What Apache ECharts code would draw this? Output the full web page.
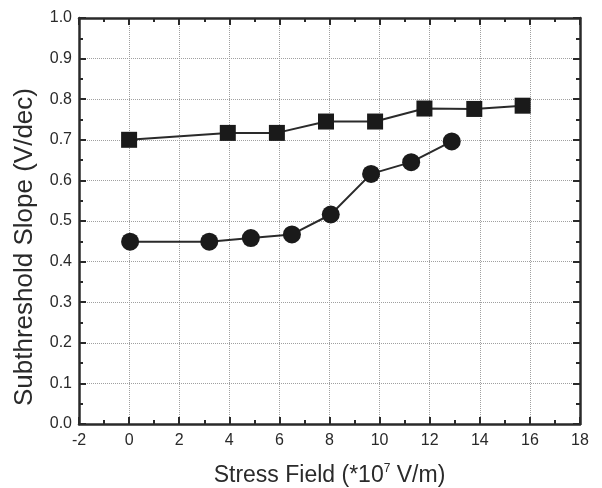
<!DOCTYPE html>
<html>
<head>
<meta charset="utf-8">
<script src="https://cdn.jsdelivr.net/npm/echarts@6/dist/echarts.min.js"></script>
<style>
  html, body { margin: 0; padding: 0; background: #fff; }
  #chart { width: 602px; height: 488px; }
</style>
</head>
<body>
<div id="chart"></div>
<script>
// 方块系列
const squareX = [0, 3.94, 5.9, 7.86, 9.82, 11.79, 13.78, 15.71];
const squareY = [0.70, 0.717, 0.717, 0.745, 0.745, 0.777, 0.776, 0.784];
// 圆点系列
const circleX = [0.04, 3.2, 4.86, 6.5, 8.05, 9.66, 11.26, 12.88];
const circleY = [0.449, 0.449, 0.458, 0.467, 0.516, 0.616, 0.645, 0.696];

const xLabel = 'Stress Field (*10';
const yLabel = 'Subthreshold Slope (V/dec)';

const ink = '#2a2a2a';
const font = 'Liberation Sans, Arial, sans-serif';

const chart = echarts.init(document.getElementById('chart'));

// 边框轴的公共设置
const frameLine = { show: true, onZero: false, lineStyle: { color: ink, width: 2.5 } };
const grid = { lineStyle: { color: '#a0a0a0', type: 'dotted', width: 1 } };
const tick = { show: true, inside: true, length: 7, lineStyle: { color: ink, width: 2 } };
const minor = { show: true, splitNumber: 2, length: 4, lineStyle: { color: ink, width: 2 } };

function pairs(xs, ys) {
  return xs.map((x, i) => [x, ys[i]]);
}

chart.setOption({
  animation: false,
  grid: { left: 79, right: 22, top: 18, bottom: 64, outerBoundsMode: 'none' },
  xAxis: [
    {
      type: 'value', min: -2, max: 18, interval: 2,
      name: '{a|' + xLabel + '}{s|7}{a| V/m)}',
      nameLocation: 'middle', nameGap: 39,
      nameTextStyle: {
        rich: {
          a: { fontSize: 23, color: ink, fontFamily: font },
          s: { fontSize: 12, color: ink, fontFamily: font, verticalAlign: 'top', padding: [0, 0, 14, 0] }
        }
      },
      axisLine: frameLine,
      axisTick: tick,
      minorTick: minor,
      axisLabel: { color: ink, fontSize: 16, fontFamily: font, margin: 9 },
      splitLine: { show: true, ...grid }
    },
    {
      type: 'value', min: -2, max: 18, interval: 2, position: 'top',
      axisLine: frameLine,
      axisTick: tick,
      minorTick: minor,
      axisLabel: { show: false },
      splitLine: { show: false }
    }
  ],
  yAxis: [
    {
      type: 'value', min: 0, max: 1, interval: 0.1,
      name: yLabel, nameLocation: 'middle', nameGap: 41,
      // 右侧留白让标题沿轴向下偏移，与原图对齐
      nameTextStyle: { fontSize: 26, color: ink, fontFamily: font, padding: [0, 52, 0, 0] },
      axisLine: frameLine,
      axisTick: tick,
      minorTick: minor,
      axisLabel: { color: ink, fontSize: 16, fontFamily: font, margin: 7, formatter: v => v.toFixed(1) },
      splitLine: { show: true, ...grid }
    },
    {
      type: 'value', min: 0, max: 1, interval: 0.1, position: 'right',
      axisLine: frameLine,
      axisTick: tick,
      minorTick: minor,
      axisLabel: { show: false },
      splitLine: { show: false }
    }
  ],
  series: [
    {
      type: 'line', xAxisIndex: 0, yAxisIndex: 0,
      data: pairs(squareX, squareY),
      symbol: 'rect', symbolSize: 16,
      itemStyle: { color: '#1a1a1a' },
      lineStyle: { color: ink, width: 2 }
    },
    {
      type: 'line', xAxisIndex: 0, yAxisIndex: 0,
      data: pairs(circleX, circleY),
      symbol: 'circle', symbolSize: 18,
      itemStyle: { color: '#1a1a1a' },
      lineStyle: { color: ink, width: 2 }
    }
  ]
});
</script>
</body>
</html>
